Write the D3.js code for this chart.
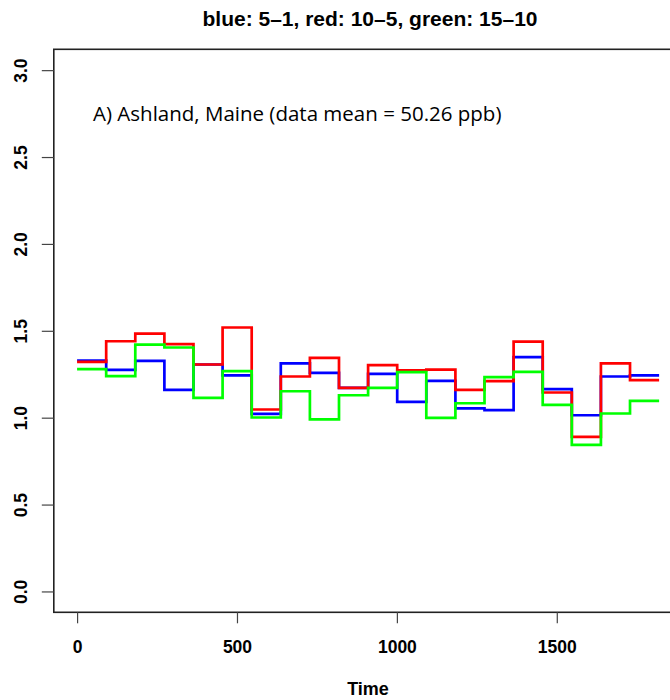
<!DOCTYPE html>
<html><head><meta charset="utf-8">
<script src="https://cdn.jsdelivr.net/npm/d3@7"></script>
<style>body{margin:0;background:#fff}</style>
</head><body>
<script>
const times = [0, 91, 182, 273, 364, 455, 546, 637, 728, 819, 910, 1001, 1092, 1183, 1274, 1365, 1456, 1547, 1638, 1729, 1820];
const blue  = [1.329, 1.275, 1.327, 1.160, 1.306, 1.243, 1.022, 1.312, 1.258, 1.172, 1.252, 1.091, 1.212, 1.053, 1.043, 1.348, 1.164, 1.014, 1.237, 1.243];
const red   = [1.321, 1.440, 1.484, 1.423, 1.306, 1.519, 1.047, 1.237, 1.344, 1.172, 1.302, 1.273, 1.277, 1.160, 1.210, 1.438, 1.145, 0.890, 1.312, 1.216];
const green = [1.279, 1.239, 1.421, 1.404, 1.114, 1.268, 1.001, 1.152, 0.990, 1.129, 1.172, 1.262, 0.999, 1.083, 1.233, 1.264, 1.074, 0.844, 1.024, 1.097];
const xTicks = [0, 500, 1000, 1500];
const yTicks = [0, 0.5, 1, 1.5, 2, 2.5, 3];
const titleText = "blue: 5\u20131, red: 10\u20135, green: 15\u201310";
const noteText = "A) Ashland, Maine (data mean = 50.26 ppb)";
const xLabel = "Time";

const W = 670, H = 700;
const svg = d3.select("body").append("svg").attr("width", W).attr("height", H);

const xmin = 0, xmax = 1820, ymin = 0, ymax = 3;
const xpad = (xmax - xmin) * 0.04, ypad = (ymax - ymin) * 0.04;
const x = d3.scaleLinear().domain([xmin - xpad, xmax + xpad]).range([53.8, 53.8 + (xmax + 2 * xpad) * 0.3198]);
const y = d3.scaleLinear().domain([ymin - ypad, ymax + ypad]).range([612.3, 49.3]);

const axisColor = "#222";
const font = "'Liberation Sans', Arial, sans-serif";

// box
svg.append("rect")
  .attr("x", x.range()[0]).attr("y", y.range()[1])
  .attr("width", x.range()[1] - x.range()[0]).attr("height", y.range()[0] - y.range()[1])
  .attr("fill", "none").attr("stroke", axisColor).attr("stroke-width", 1.6);

// x axis
const xAxis = d3.axisBottom(x).tickValues(xTicks).tickSize(11).tickPadding(17).tickFormat(d3.format("d"));
const gx = svg.append("g").attr("transform", `translate(0,${y.range()[0]})`).call(xAxis);
gx.select(".domain").remove();
gx.selectAll(".tick line").attr("stroke", "#444").attr("stroke-width", 1.2);
gx.selectAll(".tick text").attr("fill", "#000").style("font-family", font).style("font-size", "17.5px").style("font-weight", "bold");

// y axis
const yAxis = d3.axisLeft(y).tickValues(yTicks).tickSize(12).tickFormat(d3.format(".1f"));
const gy = svg.append("g").attr("transform", `translate(${x.range()[0]},0)`).call(yAxis);
gy.select(".domain").remove();
gy.selectAll(".tick line").attr("stroke", "#444").attr("stroke-width", 1.2);
gy.selectAll(".tick text")
  .attr("x", null).attr("dy", null)
  .attr("transform", "translate(-27,0) rotate(-90)")
  .attr("text-anchor", "middle")
  .attr("fill", "#000").style("font-family", font).style("font-size", "17.5px").style("font-weight", "bold");

// step lines
const series = [{v: blue, c: "#0000ff"}, {v: red, c: "#ff0000"}, {v: green, c: "#00ff00"}];
const line = d3.line().x(d => x(d[0])).y(d => y(d[1])).curve(d3.curveStepAfter);
series.forEach(s => {
  const pts = times.map((t, i) => [t, s.v[Math.min(i, s.v.length - 1)]]);
  svg.append("path").attr("d", line(pts)).attr("fill", "none")
    .attr("stroke", s.c).attr("stroke-width", 2.7).attr("stroke-linejoin", "miter");
});

// title
svg.append("text").attr("x", 370).attr("y", 26).attr("text-anchor", "middle")
  .style("font-family", font).style("font-size", "21px").style("font-weight", "bold").text(titleText);

// x label
svg.append("text").attr("x", 368).attr("y", 695).attr("text-anchor", "middle")
  .style("font-family", font).style("font-size", "18px").style("font-weight", "bold").text(xLabel);

// annotation
svg.append("text").attr("x", 93).attr("y", 121)
  .style("font-family", "'Open Sans', sans-serif").style("font-size", "20.5px").text(noteText);
</script>
</body></html>
